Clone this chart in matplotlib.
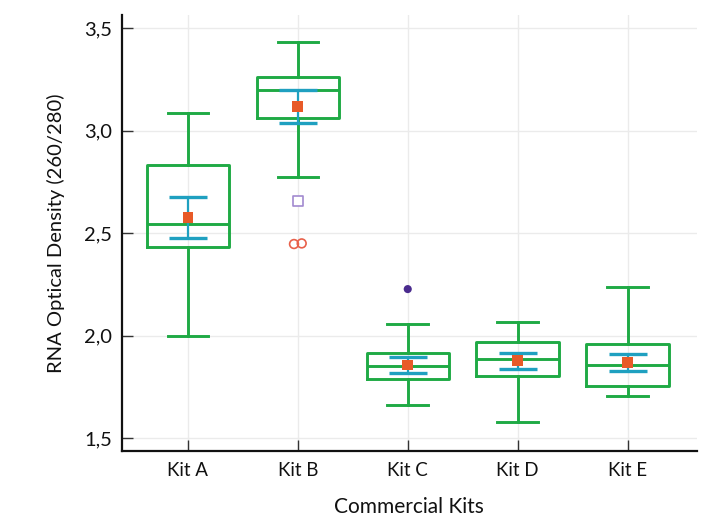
import matplotlib
matplotlib.use("Agg")
import matplotlib.pyplot as plt

# Data per kit
kits = ["Kit A", "Kit B", "Kit C", "Kit D", "Kit E"]
whisker_low = [1.998, 2.774, 1.659, 1.576, 1.705]
q1 = [2.431, 3.063, 1.786, 1.804, 1.755]
median = [2.544, 3.199, 1.851, 1.885, 1.855]
q3 = [2.833, 3.264, 1.913, 1.970, 1.959]
whisker_high = [3.088, 3.432, 2.055, 2.068, 2.235]
mean = [2.575, 3.117, 1.856, 1.877, 1.869]
ci_half = [0.100, 0.080, 0.041, 0.038, 0.041]

# Outliers: (kit index, value, horizontal jitter, kind)
outlier_kit = [1, 1, 1, 2]
outlier_val = [2.657, 2.447, 2.450, 2.227]
outlier_jitter = [0.0, -0.035, 0.035, 0.0]
outlier_kind = ["square", "circle", "circle", "dot"]

y_ticks = [1.5, 2.0, 2.5, 3.0, 3.5]
y_tick_labels = ["1,5", "2,0", "2,5", "3,0", "3,5"]

GREEN = "#1faa45"
TEAL = "#1fa0c0"
ORANGE = "#e85a28"

plt.rcParams["font.family"] = ["Lato", "DejaVu Sans"]

fig = plt.figure(figsize=(7.11, 5.17), dpi=100)
ax = fig.add_axes([0.1716, 0.128, 0.8084, 0.843])

positions = list(range(len(kits)))
stats = []
for i, k in enumerate(kits):
    stats.append(dict(label=k, whislo=whisker_low[i], q1=q1[i], med=median[i],
                      q3=q3[i], whishi=whisker_high[i], mean=mean[i], fliers=[]))

line = dict(color=GREEN, linewidth=2.1)
ax.bxp(stats, positions=positions, widths=0.75, capwidths=0.37,
       showfliers=False, showmeans=False,
       boxprops=line, whiskerprops=line, capprops=line,
       medianprops=line, zorder=3)

# mean with confidence interval
ax.errorbar(positions, mean, yerr=ci_half, fmt="none", ecolor=TEAL,
            elinewidth=1.6, capsize=13.5, capthick=2.4, zorder=4)
ax.scatter(positions, mean, marker="s", s=60, color=ORANGE,
           edgecolors="none", zorder=5)

for k, v, j, kind in zip(outlier_kit, outlier_val, outlier_jitter, outlier_kind):
    x = positions[k] + j
    if kind == "square":
        ax.scatter([x], [v], marker="s", s=42, facecolors="white",
                   edgecolors="#a28ad0", linewidths=1.2, zorder=5)
    elif kind == "circle":
        ax.scatter([x], [v], marker="o", s=40, facecolors="none",
                   edgecolors="#e8604a", linewidths=1.2, zorder=5)
    else:
        ax.scatter([x], [v], marker="o", s=34, color="#4a2b8e",
                   edgecolors="none", zorder=5)

ax.set_xlim(-0.6, 4.63)
ax.set_ylim(1.4375, 3.565)
ax.set_yticks(y_ticks)
ax.set_yticklabels(y_tick_labels)
ax.set_xticks(positions)
ax.set_xticklabels(kits)

ax.grid(True, color="#ebebeb", linewidth=1.0, zorder=0)
ax.set_axisbelow(True)

for s in ["top", "right"]:
    ax.spines[s].set_visible(False)
for s in ["left", "bottom"]:
    ax.spines[s].set_color("#111111")
    ax.spines[s].set_linewidth(1.6)

ax.tick_params(axis="both", direction="in", length=8, width=1.0,
               color="#333333", labelcolor="#111111")
ax.tick_params(axis="x", pad=8, labelsize=13.5)
ax.tick_params(axis="y", pad=7, labelsize=14.5)

ax.set_ylabel("RNA Optical Density (260/280)", fontsize=14.5, color="#111111",
              labelpad=14)
ax.set_xlabel("Commercial Kits", fontsize=15, color="#111111", labelpad=13)

fig.savefig("out.png", dpi=100)
